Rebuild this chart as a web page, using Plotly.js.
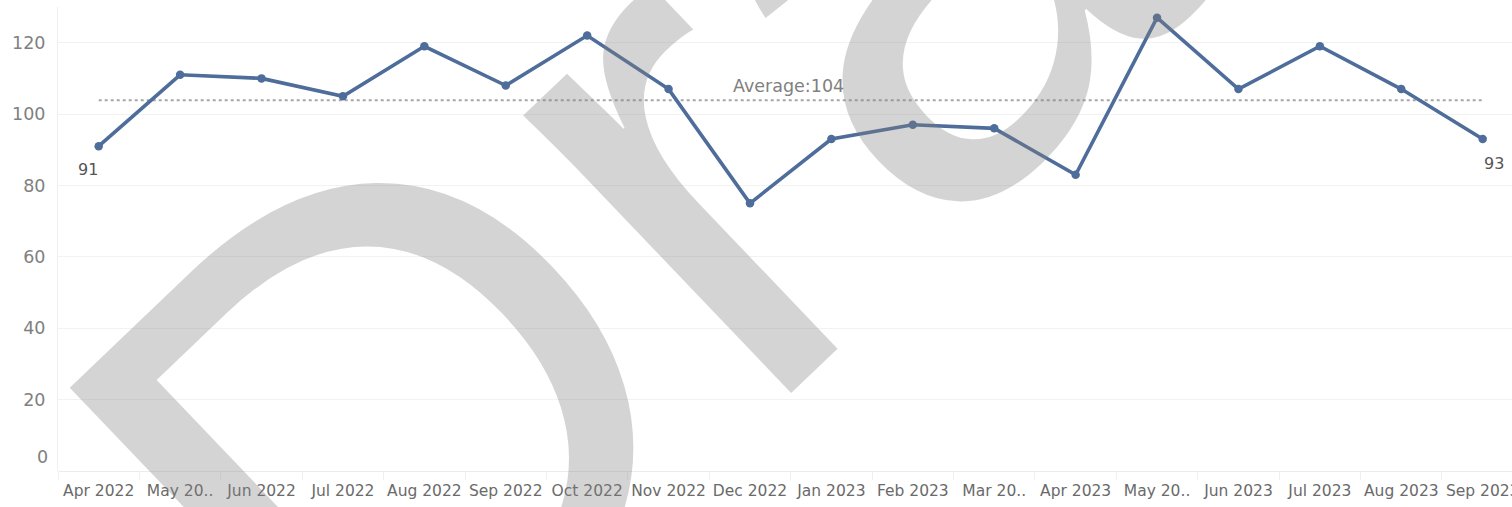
<!DOCTYPE html>
<html><head><meta charset="utf-8">
<script src="https://cdn.plot.ly/plotly-3.0.1.min.js"></script>
<style>html,body{margin:0;padding:0;background:#fff;}#chart{width:1512px;height:507px;}</style>
</head><body><div id="chart"></div>
<script>
const months = ["Apr 2022","May 2022","Jun 2022","Jul 2022","Aug 2022","Sep 2022","Oct 2022","Nov 2022","Dec 2022","Jan 2023","Feb 2023","Mar 2023","Apr 2023","May 2023","Jun 2023","Jul 2023","Aug 2023","Sep 2023"];
const tickLabels = ["Apr 2022","May 20..","Jun 2022","Jul 2022","Aug 2022","Sep 2022","Oct 2022","Nov 2022","Dec 2022","Jan 2023","Feb 2023","Mar 20..","Apr 2023","May 20..","Jun 2023","Jul 2023","Aug 2023","Sep 2023"];
const values = [91,111,110,105,119,108,122,107,75,93,97,96,83,127,107,119,107,93];
const yTicks = [20,40,60,80,100,120];
const watermark = "Draft";

const avg = values.reduce((a,b)=>a+b,0)/values.length;
const avgRounded = Math.round(avg);
const lineColor = "#4e6d9a";
const font = "DejaVu Sans, sans-serif";

const traces = [
  {x: months, y: values.map(()=>avg), type:"scatter", mode:"lines",
   line:{color:"#a6a6a6", width:2, dash:"dot"}, hoverinfo:"skip", showlegend:false},
  {x: months, y: values, type:"scatter", mode:"lines+markers",
   line:{color:lineColor, width:3.6}, marker:{color:lineColor, size:8.5}, showlegend:false}
];

const n = months.length;
const annotations = [
  {x: months[0], y: values[0], xref:"x", yref:"y", text: String(values[0]), showarrow:false,
   xanchor:"center", yanchor:"middle", xshift:-11, yshift:-23, font:{family:font, size:16, color:"#555"}},
  {x: months[n-1], y: values[n-1], xref:"x", yref:"y", text: String(values[n-1]), showarrow:false,
   xanchor:"center", yanchor:"middle", xshift:11, yshift:-24, font:{family:font, size:16, color:"#555"}},
  {x: months[9], y: avg, xref:"x", yref:"y", text: "Average:" + avgRounded, showarrow:false,
   xanchor:"center", yanchor:"middle", xshift:-43, yshift:14, font:{family:font, size:17.5, color:"#808080"}},
  {x: 0, y: 0, xref:"paper", yref:"y", text:"0", showarrow:false, xanchor:"right", yanchor:"middle",
   xshift:-8, yshift:14, font:{family:font, size:17.5, color:"#808080"}},
  {x: 0.4905, y: 0.882, xref:"paper", yref:"paper", text: watermark, showarrow:false,
   xanchor:"center", yanchor:"middle", textangle:-43.7,
   font:{family:"Liberation Sans, Arial, sans-serif", size:730, color:"rgba(128,128,128,0.34)"}}
];

const layout = {
  width:1512, height:507,
  margin:{l:58, r:0, t:7, b:36},
  paper_bgcolor:"#fff", plot_bgcolor:"#fff",
  xaxis:{type:"category", range:[-0.5, 17.36], tickvals: months, ticktext: tickLabels,
    showgrid:false, zeroline:false, showline:false, tickangle:0,
    ticks:"outside", tickson:"boundaries", ticklen:8, tickcolor:"#f0f0f0",
    ticklabelstandoff:8,
    tickfont:{family:font, size:15.5, color:"#6a6a6a"}},
  yaxis:{range:[0,130], tickvals: yTicks, showgrid:true, gridcolor:"#f2f2f2", gridwidth:1,
    zeroline:true, zerolinecolor:"#ececec", zerolinewidth:1,
    showline:true, linecolor:"#f0f0f0", ticks:"", ticklabelstandoff:8,
    tickfont:{family:font, size:17.5, color:"#808080"}},
  annotations: annotations,
  showlegend:false
};

Plotly.newPlot("chart", traces, layout, {displayModeBar:false, staticPlot:true});
</script></body></html>
